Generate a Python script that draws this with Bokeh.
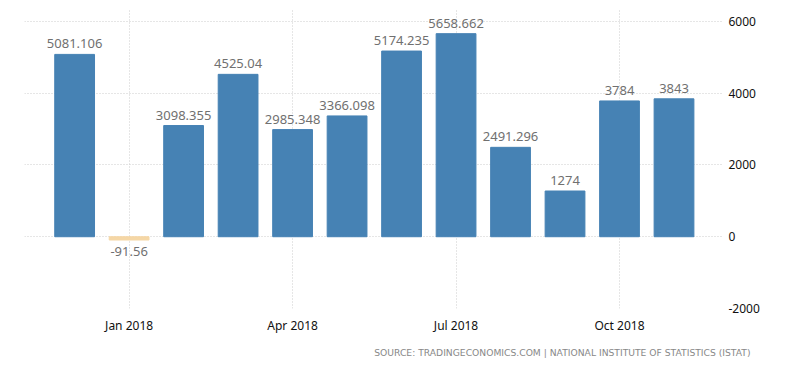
from bokeh.plotting import figure
from bokeh.models import ColumnDataSource, LabelSet, Title, LinearAxis, FixedTicker, Range1d
from bokeh.core.properties import value
from bokeh.embed import file_html
from bokeh.resources import INLINE

months = ["Dec 2017", "Jan 2018", "Feb 2018", "Mar 2018", "Apr 2018", "May 2018",
          "Jun 2018", "Jul 2018", "Aug 2018", "Sep 2018", "Oct 2018", "Nov 2018"]
values = [5081.106, -91.56, 3098.355, 4525.04, 2985.348, 3366.098,
          5174.235, 5658.662, 2491.296, 1274, 3784, 3843]
labels = ["5081.106", "-91.56", "3098.355", "4525.04", "2985.348", "3366.098",
          "5174.235", "5658.662", "2491.296", "1274", "3784", "3843"]
x_tick_labels = {1: "Jan 2018", 4: "Apr 2018", 7: "Jul 2018", 10: "Oct 2018"}
y_ticks = [-2000, 0, 2000, 4000, 6000]
y_tick_labels = {-2000: "-2000", 0: "0", 2000: "2000", 4000: "4000", 6000: "6000"}

xs = list(range(len(months)))
colors = ["#4682B4" if v >= 0 else "#F5D7A6" for v in values]
pos = [i for i, v in enumerate(values) if v >= 0]
neg = [i for i, v in enumerate(values) if v < 0]

src = ColumnDataSource(dict(x=xs, top=values, color=colors, label=labels))
src_pos = ColumnDataSource(dict(x=[xs[i] for i in pos], y=[values[i] for i in pos],
                                label=[labels[i] for i in pos]))
src_neg = ColumnDataSource(dict(x=[xs[i] for i in neg], y=[values[i] for i in neg],
                                label=[labels[i] for i in neg]))

p = figure(width=784, height=365, output_backend="svg", toolbar_location=None,
           x_range=Range1d(-0.92, 11.89), y_range=Range1d(-2000, 6360),
           min_border_left=24, min_border_right=62, min_border_top=8, min_border_bottom=55)
p.outline_line_color = None
p.background_fill_color = "white"
p.border_fill_color = "white"

p.vbar(x="x", top="top", bottom=0, width=0.73, color="color", source=src)

LF = "Noto Sans"
p.add_layout(LabelSet(x="x", y="y", text="label", source=src_pos, text_align="center",
                      text_baseline="bottom", y_offset=6, text_font_size=value("13px"),
                      text_color="#707070", text_font=value(LF)))
p.add_layout(LabelSet(x="x", y="y", text="label", source=src_neg, text_align="center",
                      text_baseline="top", y_offset=-7, text_font_size=value("13px"),
                      text_color="#707070", text_font=value(LF)))

# axes
p.yaxis.visible = False
p.xaxis.ticker = FixedTicker(ticks=list(x_tick_labels.keys()))
p.xaxis.major_label_overrides = x_tick_labels
p.xaxis.axis_line_color = None
p.xaxis.major_tick_line_color = None
p.xaxis.minor_tick_line_color = None
p.xaxis.major_label_text_font_size = "12px"
p.xaxis.major_label_text_color = "#111111"
p.xaxis.major_label_text_font = LF
p.xaxis.major_label_standoff = 2

yax = LinearAxis(ticker=FixedTicker(ticks=y_ticks))
yax.major_label_overrides = y_tick_labels
yax.axis_line_color = None
yax.major_tick_line_color = None
yax.minor_tick_line_color = None
yax.major_label_text_font_size = "12px"
yax.major_label_text_color = "#111111"
yax.major_label_text_font = LF
yax.major_label_standoff = 0
p.add_layout(yax, "right")

p.xgrid.ticker = FixedTicker(ticks=list(x_tick_labels.keys()))
p.xgrid.grid_line_color = "#cccccc"
p.xgrid.grid_line_dash = "1 2"
p.ygrid.ticker = FixedTicker(ticks=y_ticks)
p.ygrid.grid_line_color = "#cccccc"
p.ygrid.grid_line_dash = "1 2"

src_title = Title(text="SOURCE: TRADINGECONOMICS.COM | NATIONAL INSTITUTE OF STATISTICS (ISTAT)",
                  align="right", text_font_size="9.2px", text_color="#888888",
                  text_font="DejaVu Sans", text_font_style="normal", offset=-28,
                  standoff=16)
p.add_layout(src_title, "below")

open("out.html", "w").write(file_html(p, INLINE))
